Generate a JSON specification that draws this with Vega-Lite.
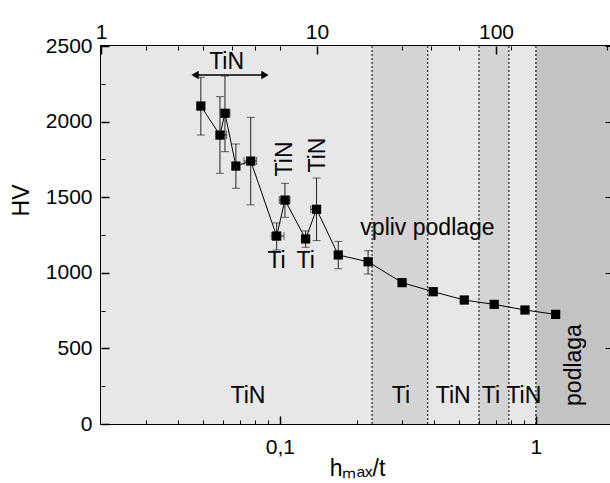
{
  "$schema": "https://vega.github.io/schema/vega-lite/v6.json",
  "width": 512,
  "height": 378,
  "autosize": "none",
  "padding": {"left": 101, "top": 46, "right": 0, "bottom": 59},
  "background": "white",
  "config": {
    "font": "Liberation Sans",
    "view": {"stroke": "black", "strokeWidth": 2},
    "axis": {"domain": false, "grid": false, "labelFont": "Liberation Sans", "labelFontSize": 21, "labelColor": "black", "tickColor": "black", "titleFont": "Liberation Sans", "titleFontSize": 23, "titleColor": "black", "titleFontWeight": "normal", "labelFlush": false, "labelOverlap": false}
  },
  "datasets": {
    "regions": [
      {"x0": 0.02, "x1": 0.229, "kind": "TiN"},
      {"x0": 0.229, "x1": 0.378, "kind": "Ti"},
      {"x0": 0.378, "x1": 0.599, "kind": "TiN"},
      {"x0": 0.599, "x1": 0.784, "kind": "Ti"},
      {"x0": 0.784, "x1": 1.0, "kind": "TiN"},
      {"x0": 1.0, "x1": 2, "kind": "podlaga"}
    ],
    "points": [
      {"x": 0.0491, "y": 2103, "yLo": 1911, "yHi": 2293},
      {"x": 0.0583, "y": 1911, "yLo": 1658, "yHi": 2165, "xLo": 0.0566, "xHi": 0.0619},
      {"x": 0.061, "y": 2055, "yLo": 1801, "yHi": 2302, "xLo": 0.0592, "xHi": 0.0638},
      {"x": 0.0673, "y": 1706, "yLo": 1559, "yHi": 1852},
      {"x": 0.0769, "y": 1739, "yLo": 1450, "yHi": 2028, "xLo": 0.0724, "xHi": 0.0811},
      {"x": 0.0971, "y": 1243, "yLo": 1151, "yHi": 1330, "xLo": 0.0926, "xHi": 0.1037},
      {"x": 0.1046, "y": 1481, "yLo": 1367, "yHi": 1592, "xLo": 0.0994, "xHi": 0.1094},
      {"x": 0.126, "y": 1224, "yLo": 1169, "yHi": 1277},
      {"x": 0.139, "y": 1420, "yLo": 1213, "yHi": 1627, "xLo": 0.132, "xHi": 0.144},
      {"x": 0.169, "y": 1118, "yLo": 1027, "yHi": 1208},
      {"x": 0.221, "y": 1073, "yLo": 992, "yHi": 1146},
      {"x": 0.3, "y": 935, "yLo": 915, "yHi": 955},
      {"x": 0.397, "y": 875},
      {"x": 0.525, "y": 820},
      {"x": 0.687, "y": 791},
      {"x": 0.906, "y": 754},
      {"x": 1.194, "y": 725}
    ],
    "labels": [
      {"text": "TiN", "x": 0.075, "y": 185},
      {"text": "Ti", "x": 0.297, "y": 185},
      {"text": "TiN", "x": 0.475, "y": 185},
      {"text": "Ti", "x": 0.667, "y": 185},
      {"text": "TiN", "x": 0.897, "y": 185},
      {"text": "vpliv podlage", "x": 0.377, "y": 1296},
      {"text": "Ti", "x": 0.097, "y": 1080},
      {"text": "Ti", "x": 0.126, "y": 1080},
      {"text": "TiN", "x": 0.0619, "y": 2396}
    ],
    "vlabels": [
      {"text": "podlaga", "x": 1.407, "y": 390},
      {"text": "TiN", "x": 0.1046, "y": 1753},
      {"text": "TiN", "x": 0.141, "y": 1779}
    ],
    "arrow": [{"x": 0.0466, "x2": 0.0874, "y": 2308}],
    "heads": [{"x": 0.0466, "y": 2308, "end": "left"}, {"x": 0.0874, "y": 2308, "end": "right"}]
  },
  "resolve": {"axis": {"x": "independent", "y": "independent"}},
  "layer": [
    {
      "data": {"name": "regions"},
      "mark": {"type": "rect"},
      "encoding": {
        "x": {"field": "x0", "type": "quantitative", "scale": {"type": "log", "domain": [0.02, 2], "nice": false},
          "axis": {"orient": "bottom", "zindex": 2, "values": [0.1, 1], "format": "~g", "labelExpr": "replace(datum.label, '.', ',')", "offset": -8, "tickSize": 8, "tickWidth": 1.5, "labelPadding": 12, "title": "hₘₐₓ/t", "titleY": 59, "titleBaseline": "alphabetic"}},
        "x2": {"field": "x1"},
        "color": {"field": "kind", "type": "nominal", "legend": null, "scale": {"domain": ["TiN", "Ti", "podlaga"], "range": ["#e7e7e7", "#d4d4d4", "#c3c3c3"]}}
      }
    },
    {
      "data": {"name": "regions"},
      "transform": [{"filter": "datum.x0 > 0.02"}],
      "mark": {"type": "rule", "color": "black", "strokeWidth": 1, "strokeDash": [2, 2]},
      "encoding": {
        "x": {"field": "x0", "type": "quantitative", "scale": {"type": "log", "domain": [0.02, 2], "nice": false},
          "axis": {"orient": "bottom", "zindex": 2, "values": [0.03, 0.04, 0.05, 0.06, 0.07, 0.08, 0.09, 0.2, 0.3, 0.4, 0.5, 0.6, 0.7, 0.8, 0.9, 2], "labels": false, "offset": -4, "tickSize": 4, "title": null}}
      }
    },
    {
      "data": {"name": "points"},
      "mark": {"type": "line", "color": "black", "strokeWidth": 1},
      "encoding": {
        "x": {"field": "x", "type": "quantitative", "scale": {"type": "log", "domain": [0.02, 2], "nice": false},
          "axis": {"orient": "top", "zindex": 2, "values": [0.02, 0.1395, 0.698], "labelExpr": "datum.value < 0.05 ? '1' : datum.value < 0.3 ? '10' : '100'", "offset": -8, "tickSize": 8, "tickWidth": 1.5, "labelPadding": 4, "title": null}},
        "y": {"field": "y", "type": "quantitative", "scale": {"domain": [0, 2500], "nice": false},
          "axis": {"orient": "left", "zindex": 2, "values": [0, 500, 1000, 1500, 2000, 2500], "format": "d", "offset": -8, "tickSize": 8, "tickWidth": 1.5, "labelPadding": 9, "title": "HV", "titleX": -88, "titleY": 154, "titleAngle": 270, "titleBaseline": "middle", "titleAlign": "center"}}
      }
    },
    {
      "data": {"name": "points"},
      "transform": [{"filter": "datum.yLo != null"}],
      "mark": {"type": "errorbar", "ticks": {"size": 8, "color": "#222", "strokeWidth": 1}, "rule": {"color": "#222", "strokeWidth": 1}},
      "encoding": {
        "x": {"field": "x", "type": "quantitative", "scale": {"type": "log", "domain": [0.02, 2], "nice": false},
          "axis": {"orient": "top", "zindex": 2, "values": [0.03, 0.04, 0.05, 0.065, 0.08, 0.1, 0.3, 0.39, 0.5, 0.8, 1.89], "labels": false, "offset": -4, "tickSize": 4, "title": null}},
        "y": {"field": "yLo", "type": "quantitative", "scale": {"domain": [0, 2500], "nice": false},
          "axis": {"orient": "left", "zindex": 2, "values": [250, 750, 1250, 1750, 2250], "labels": false, "offset": -4, "tickSize": 4, "title": null}},
        "y2": {"field": "yHi"}
      }
    },
    {
      "data": {"name": "points"},
      "transform": [{"filter": "datum.xLo != null"}],
      "mark": {"type": "errorbar", "ticks": {"size": 8, "color": "#222", "strokeWidth": 1}, "rule": {"color": "#222", "strokeWidth": 1}},
      "encoding": {
        "x": {"field": "xLo", "type": "quantitative", "scale": {"type": "log", "domain": [0.02, 2], "nice": false}, "axis": null},
        "x2": {"field": "xHi"},
        "y": {"field": "y", "type": "quantitative", "scale": {"domain": [0, 2500], "nice": false},
          "axis": {"orient": "right", "zindex": 2, "values": [0, 500, 1000, 1500, 2000, 2500], "labels": false, "offset": -8, "tickSize": 8, "title": null}}
      }
    },
    {
      "data": {"name": "points"},
      "mark": {"type": "point", "shape": "square", "filled": true, "size": 85, "color": "black", "opacity": 1},
      "encoding": {
        "x": {"field": "x", "type": "quantitative", "axis": null},
        "y": {"field": "y", "type": "quantitative", "axis": null}
      }
    },
    {
      "data": {"name": "arrow"},
      "mark": {"type": "rule", "color": "black", "strokeWidth": 1.5},
      "encoding": {
        "x": {"field": "x", "type": "quantitative", "axis": null},
        "x2": {"field": "x2"},
        "y": {"field": "y", "type": "quantitative", "axis": null}
      }
    },
    {
      "data": {"name": "heads"},
      "mark": {"type": "point", "filled": true, "size": 70, "color": "black", "opacity": 1},
      "encoding": {
        "x": {"field": "x", "type": "quantitative", "axis": null},
        "y": {"field": "y", "type": "quantitative", "axis": null},
        "shape": {"field": "end", "type": "nominal", "legend": null, "scale": {"domain": ["left", "right"], "range": ["triangle-left", "triangle-right"]}}
      }
    },
    {
      "data": {"name": "labels"},
      "mark": {"type": "text", "font": "Liberation Sans", "fontSize": 23, "color": "black", "align": "center", "baseline": "middle"},
      "encoding": {
        "x": {"field": "x", "type": "quantitative", "axis": null},
        "y": {"field": "y", "type": "quantitative", "axis": null},
        "text": {"field": "text"}
      }
    },
    {
      "data": {"name": "vlabels"},
      "mark": {"type": "text", "font": "Liberation Sans", "fontSize": 23, "color": "black", "align": "center", "baseline": "middle", "angle": 270},
      "encoding": {
        "x": {"field": "x", "type": "quantitative", "axis": null},
        "y": {"field": "y", "type": "quantitative", "axis": null},
        "text": {"field": "text"}
      }
    }
  ]
}
